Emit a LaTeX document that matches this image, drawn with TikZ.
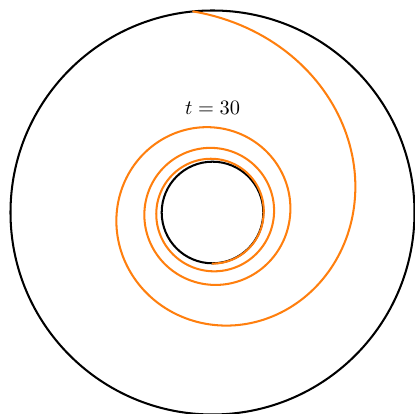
\documentclass[tikz,border=0pt]{standalone}
\usepackage{xcolor}
\usepackage{tikz}
\definecolor{orbitcolor}{HTML}{FF7F0E}

\begin{document}
\begin{tikzpicture}[
    x=0.49pt, y=0.49pt,
    wall/.style={draw=black, line width=1pt},
    orbit/.style={draw=orbitcolor, line width=1pt, line join=round, line cap=round},
    timelabel/.style={inner sep=0pt, font=\normalsize},
    declare function={orbitrad(\p) = 51.1 + 150.9/((1+\p/275)^1.75)*max(0,1-(\p/1180)^4);}
]
    \useasboundingbox (-212.5,-201.5) rectangle (202.5,212.5);
    \coordinate (centre) at (0,0);

    % outer and inner walls
    \draw[wall] (centre) circle[radius=202];
    \draw[wall] (centre) circle[radius=50.8];

    \node[timelabel] (tlabel) at (0,105) {$t = 30$};

    % trajectory, spiralling in clockwise
    \draw[orbit] plot[domain=0:1265.5, samples=640, variable=\p]
        ({95.5-\p}:{orbitrad(\p)});
\end{tikzpicture}
\end{document}
